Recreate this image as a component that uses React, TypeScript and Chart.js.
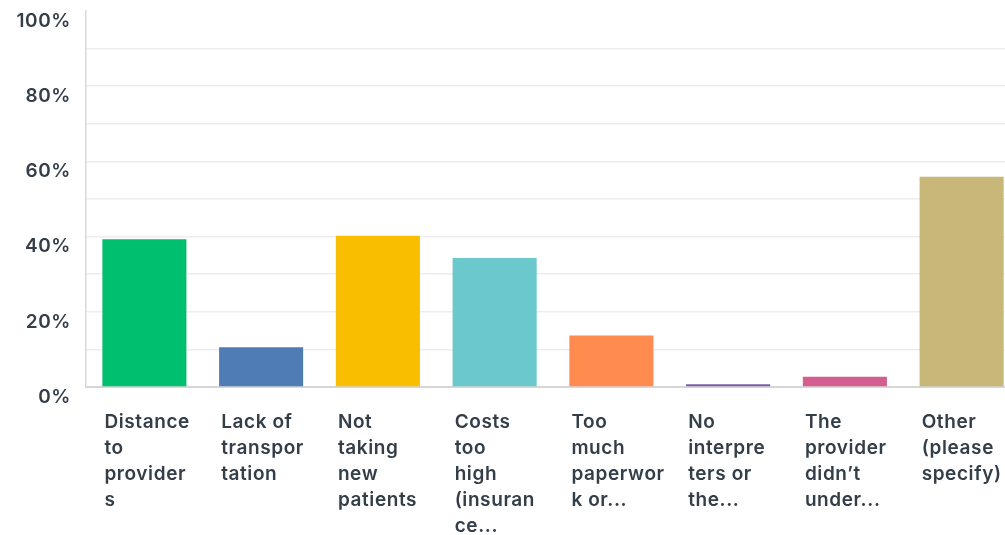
import { useEffect, useRef } from 'react';
import { Chart, registerables } from 'chart.js';

Chart.register(...registerables);

const categories: string[][] = [
  ['Distance', 'to', 'provider', 's'],
  ['Lack of', 'transpor', 'tation'],
  ['Not', 'taking', 'new', 'patients'],
  ['Costs', 'too', 'high', '(insuran', 'ce...'],
  ['Too', 'much', 'paperwor', 'k or...'],
  ['No', 'interpre', 'ters or', 'the...'],
  ['The', 'provider', 'didn\u2019t', 'under...'],
  ['Other', '(please', 'specify)'],
];
const values: number[] = [39.3, 10.6, 40.2, 34.3, 13.7, 0.7, 2.7, 55.9];
const barColors: string[] = ['#00BF6F', '#507CB6', '#F9BE00', '#6BC8CD', '#FF8B4F', '#7D5BA6', '#D25F90', '#C7B879'];
const yMax = 100;
const yStep = 10;
const yLabelEvery = 20;

const FONT = 'Inter, "Open Sans", sans-serif';
const TEXT = '#333E48';

const letterSpacingPlugin = {
  id: 'letterSpacing',
  beforeDraw: (chart: any) => {
    try {
      chart.ctx.letterSpacing = '0.6px';
    } catch (e) {}
  },
};

export default function App() {
  const ref = useRef<HTMLCanvasElement | null>(null);
  useEffect(() => {
    if (!ref.current) return;
    const chart = new Chart(ref.current, {
      type: 'bar',
      data: {
        labels: categories,
        datasets: [
          {
            data: values,
            backgroundColor: barColors,
            borderWidth: 0,
            categoryPercentage: 1,
            barPercentage: 0.72,
          },
        ],
      },
      plugins: [letterSpacingPlugin],
      options: {
        responsive: false,
        animation: false,
        devicePixelRatio: 1,
        layout: { padding: { top: 11, left: 0, right: 0, bottom: 0 } },
        plugins: { legend: { display: false }, tooltip: { enabled: false } },
        scales: {
          x: {
            grid: { display: false, drawTicks: false },
            border: { display: true, color: '#D6D6D6', width: 2 },
            ticks: {
              autoSkip: false,
              maxRotation: 0,
              minRotation: 0,
              align: 'start',
              labelOffset: -40,
              padding: 22,
              color: TEXT,
              font: { family: FONT, size: 19, weight: '600', lineHeight: '26px' as any },
            },
            afterFit: (s: any) => {
              s.height = 148;
              s.paddingLeft = 0;
              s.paddingRight = 0;
            },
          },
          y: {
            min: 0,
            max: yMax,
            grid: {
              drawTicks: false,
              color: (c: any) => (c.tick && c.tick.value === yMax ? 'rgba(0,0,0,0)' : '#EDEDED'),
              lineWidth: 1.5,
            },
            border: { display: true, color: '#D9D9D9', width: 1.5 },
            ticks: {
              stepSize: yStep,
              padding: 15,
              labelOffset: 10,
              color: TEXT,
              font: { family: FONT, size: 19, weight: '600' },
              callback: (v: any) => (Number(v) % yLabelEvery === 0 ? `${v}%` : ''),
            },
            afterFit: (s: any) => {
              s.width = 86;
              s.paddingTop = 0;
              s.paddingBottom = 0;
            },
          },
        },
      },
    });
    return () => chart.destroy();
  }, []);
  return (
    <div style={{ position: 'fixed', left: 0, top: 0, width: 1005, height: 535, overflow: 'hidden', background: '#fff' }}>
      <canvas ref={ref} width={1020} height={535} style={{ width: 1020, height: 535 }} />
    </div>
  );
}
